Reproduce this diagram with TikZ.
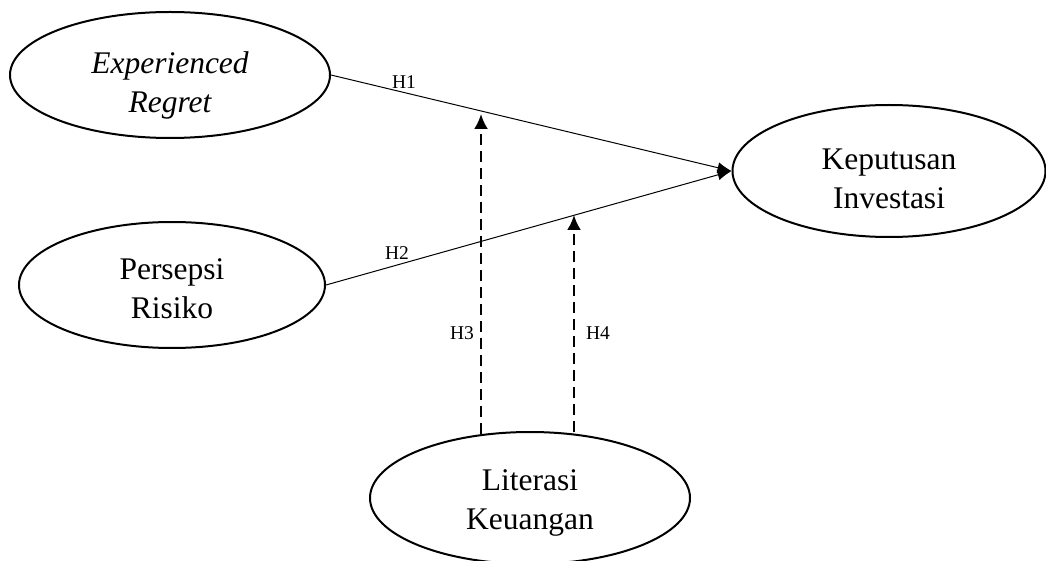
\documentclass[tikz,border=0pt]{standalone}
\usepackage{fontspec}
\setmainfont{Liberation Serif}
\usetikzlibrary{shapes.geometric,arrows.meta}
\begin{document}
\begin{tikzpicture}[x=1pt,y=-1pt,
  var/.style={ellipse,draw,line width=2pt,inner sep=0pt},
  vtext/.style={align=center,inner sep=0pt,font=\fontsize{31.5}{39}\selectfont},
  path1/.style={line width=1pt,-{Latex[length=14pt,width=11pt]}},
  modline/.style={line width=2.4pt,dash pattern=on 11pt off 6pt,
    -{Latex[length=15pt,width=14pt]}},
  hlab/.style={font=\fontsize{19.5}{22}\selectfont,inner sep=0pt}]
\useasboundingbox (0,0) rectangle (1046,561);
\node[var,minimum width=320pt,minimum height=126pt] (er) at (170,75) {};
\node[var,minimum width=306pt,minimum height=126pt] (pr) at (172,285) {};
\node[var,minimum width=313pt,minimum height=132pt] (ki) at (889,171) {};
\node[var,minimum width=320pt,minimum height=132pt] (lk) at (530,498) {};
\node[vtext] (ert) at ([yshift=-10pt]er.center) {\itshape Experienced\\\itshape Regret};
\node[vtext] (prt) at ([yshift=-4pt]pr.center) {Persepsi\\Risiko};
\node[vtext] (kit) at ([yshift=-8pt]ki.center) {Keputusan\\Investasi};
\node[vtext] (lkt) at ([yshift=-5pt]lk.center) {Literasi\\Keuangan};
\draw[path1] (er.east) -- (ki.west);
\draw[path1] (pr.east) -- (ki.west);
\coordinate (t3) at (481,114);
\coordinate (t4) at (574,215);
\draw[modline] (lk.north -| t3) ++(0,3) -- (t3);
\draw[modline] (lk.north -| t4) ++(0,1) -- (t4);
\node[hlab] (h1) at (404,82) {H1};
\node[hlab] (h2) at (397,253) {H2};
\node[hlab] (h3) at (462,333) {H3};
\node[hlab] (h4) at (598,333) {H4};
\end{tikzpicture}
\end{document}
